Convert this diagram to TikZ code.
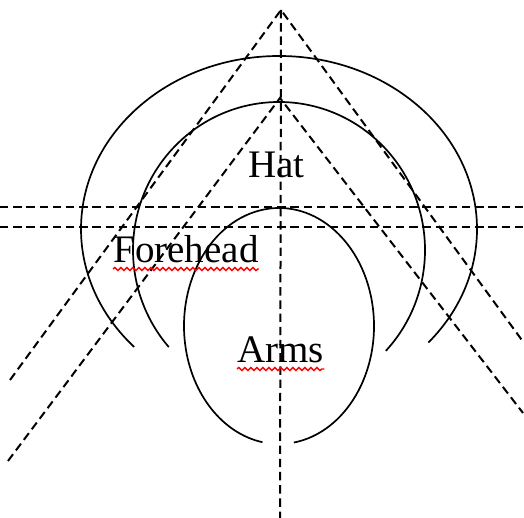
\documentclass[tikz,border=0pt]{standalone}
\usepackage{fontspec}
\setmainfont{Liberation Serif}
\usetikzlibrary{decorations.pathmorphing}

\begin{document}
\begin{tikzpicture}[x=0.5pt, y=0.5pt, font=\fontsize{19.5}{23}\selectfont,
    guide/.style={draw=black, line width=1pt, dash pattern=on 4.2pt off 2.4pt},
    rim/.style={draw=black, line width=0.85pt},
    word/.style={inner sep=0pt, anchor=base west},
    squiggle/.style={draw=red, line width=0.7pt, decorate,
      decoration={snake, segment length=3pt, amplitude=0.8pt}}]
  \useasboundingbox (0,0) rectangle (524,518);

  % apex points and free ends of the guide lines
  \coordinate (apexhat) at (281,508);
  \coordinate (apexhead) at (280,420);
  \coordinate (foot) at (280,0);
  \coordinate (hatleft) at (10,138);
  \coordinate (hatright) at (524,175);
  \coordinate (headleft) at (8,57);
  \coordinate (headright) at (523,105);

  \draw[guide] (0,311) -- (524,311);
  \draw[guide] (0,291) -- (524,291);
  \draw[guide] (apexhat) -- (foot);
  \draw[guide] (hatleft) -- (apexhat) -- (hatright);
  \draw[guide] (headleft) -- (apexhead) -- (headright);

  % the three open rims
  \draw[rim] (279,289) ++(-41:198 and 173)
    arc[start angle=-41, end angle=223, x radius=198, y radius=173];
  \draw[rim] (279,268) ++(-43:146 and 148)
    arc[start angle=-43, end angle=221, x radius=146, y radius=148];
  \draw[rim] (279,192) ++(-81:95 and 118)
    arc[start angle=-81, end angle=260, x radius=95, y radius=118];

  \node[word] (hat) at (248,340) {Hat};
  \node[word] (forehead) at (113,255) {Forehead};
  \node[word] (arms) at (237,155) {Arms};

  \draw[squiggle] ([yshift=-3pt]forehead.base west) -- ([yshift=-3pt]forehead.base east);
  \draw[squiggle] ([yshift=-3pt]arms.base west) -- ([yshift=-3pt]arms.base east);
\end{tikzpicture}
\end{document}
